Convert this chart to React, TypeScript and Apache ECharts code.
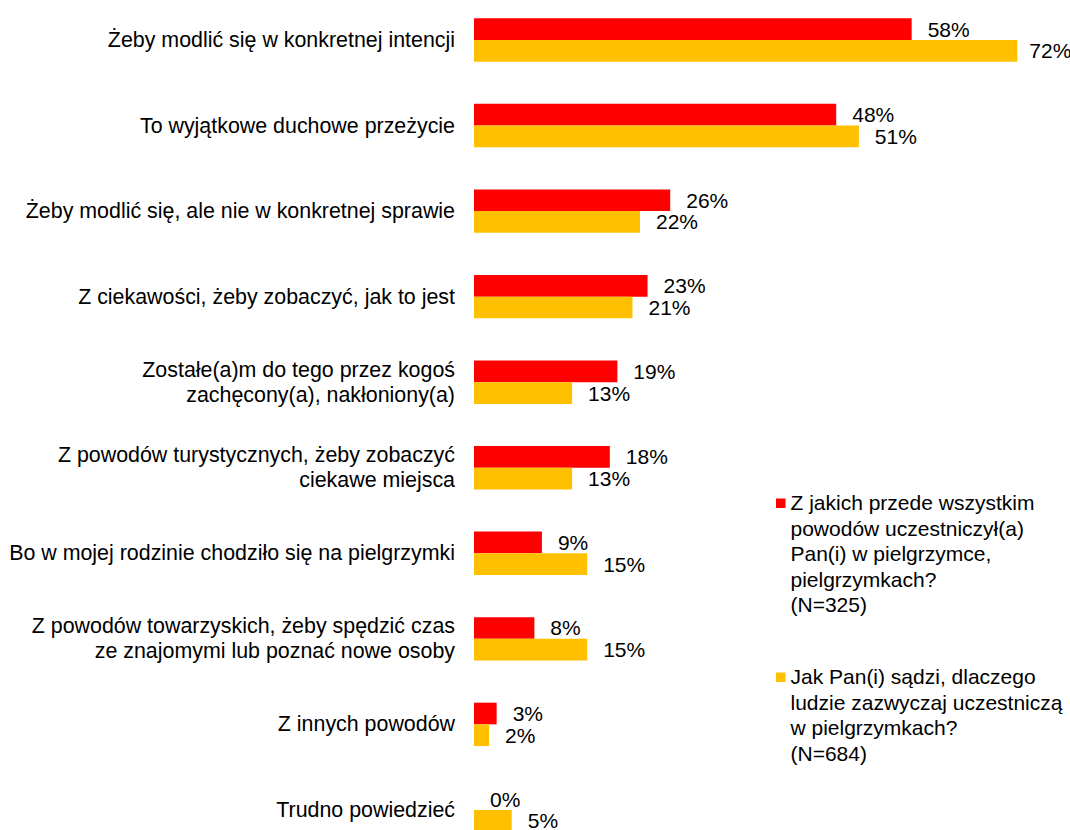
import React, { useEffect, useRef } from "react";
import * as echarts from "echarts";

const categories = [
  "Żeby modlić się w konkretnej intencji",
  "To wyjątkowe duchowe przeżycie",
  "Żeby modlić się, ale nie w konkretnej sprawie",
  "Z ciekawości, żeby zobaczyć, jak to jest",
  "Zostałe(a)m do tego przez kogoś\nzachęcony(a), nakłoniony(a)",
  "Z powodów turystycznych, żeby zobaczyć\nciekawe miejsca",
  "Bo w mojej rodzinie chodziło się na pielgrzymki",
  "Z powodów towarzyskich, żeby spędzić czas\nze znajomymi lub poznać nowe osoby",
  "Z innych powodów",
  "Trudno powiedzieć",
];

const ownReasons = [58, 48, 26, 23, 19, 18, 9, 8, 3, 0];
const othersReasons = [72, 51, 22, 21, 13, 13, 15, 15, 2, 5];

const seriesNames = [
  "Z jakich przede wszystkim\npowodów uczestniczył(a)\nPan(i) w pielgrzymce,\npielgrzymkach?\n(N=325)",
  "Jak Pan(i) sądzi, dlaczego\nludzie zazwyczaj uczestniczą\nw pielgrzymkach?\n(N=684)",
];

const colors = ["#FF0000", "#FFC000"];
const FONT = "'Liberation Sans', Arial, sans-serif";

export default function App() {
  const ref = useRef<HTMLDivElement>(null);

  useEffect(() => {
    if (!ref.current) return;
    const chart = echarts.init(ref.current, null, { renderer: "svg" });
    const labelStyle = {
      show: true,
      position: "right" as const,
      distance: 16,
      formatter: "{c}%",
      fontSize: 21,
      fontFamily: FONT,
      color: "#000",
    };
    const maxOthers = Math.max(...othersReasons);
    chart.setOption({
      animation: false,
      backgroundColor: "#fff",
      textStyle: { fontFamily: FONT },
      grid: {
        left: 474,
        width: 754.6,
        top: -2.8,
        height: 855.5,
        outerBoundsMode: "none",
        containLabel: false,
      },
      xAxis: {
        type: "value",
        min: 0,
        max: 100,
        show: false,
        splitLine: { show: false },
      },
      yAxis: {
        type: "category",
        inverse: true,
        data: categories,
        axisLine: { show: false },
        axisTick: { show: false },
        axisLabel: {
          margin: 19,
          fontSize: 21.4,
          lineHeight: 25,
          fontFamily: FONT,
          color: "#000",
          align: "right",
        },
      },
      series: [
        {
          name: seriesNames[0],
          type: "bar",
          data: ownReasons,
          barWidth: 21.7,
          barGap: "0%",
          itemStyle: { color: colors[0] },
          label: labelStyle,
        },
        {
          name: seriesNames[1],
          type: "bar",
          data: othersReasons.map((v) =>
            v === maxOthers ? { value: v, label: { distance: 12 } } : v
          ),
          barWidth: 21.7,
          barGap: "0%",
          itemStyle: { color: colors[1] },
          label: labelStyle,
        },
      ],
      graphic: [
        {
          type: "rect",
          left: 776,
          top: 498.5,
          shape: { width: 9.5, height: 9.5 },
          style: { fill: colors[0] },
        },
        {
          type: "text",
          left: 790.5,
          top: 490,
          style: {
            text: seriesNames[0],
            font: `21px ${FONT}`,
            lineHeight: 25.5,
            fill: "#000",
          },
        },
        {
          type: "rect",
          left: 776,
          top: 672.5,
          shape: { width: 9.5, height: 9.5 },
          style: { fill: colors[1] },
        },
        {
          type: "text",
          left: 790.5,
          top: 664,
          style: {
            text: seriesNames[1],
            font: `21px ${FONT}`,
            lineHeight: 25.5,
            fill: "#000",
          },
        },
      ],
    });
    return () => chart.dispose();
  }, []);

  return (
    <div
      ref={ref}
      style={{ position: "fixed", left: 0, top: 0, width: 1070, height: 830 }}
    />
  );
}
